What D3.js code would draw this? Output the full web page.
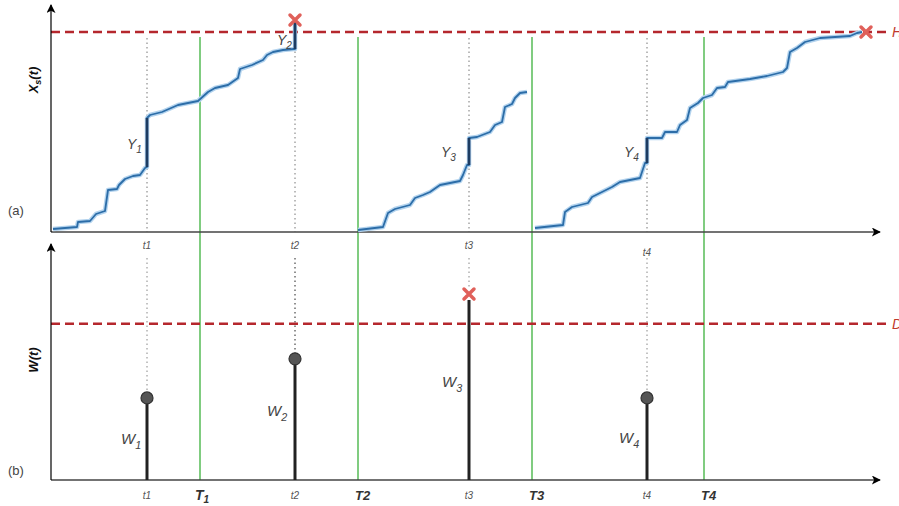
<!DOCTYPE html>
<html>
<head>
<meta charset="utf-8">
<script src="https://cdn.jsdelivr.net/npm/d3@7"></script>
<style>
  body { margin: 0; background: #fff; }
  text { font-family: Arial, "Liberation Sans", sans-serif; }
</style>
</head>
<body>
<div id="vis"></div>
<script>
// frame
const FRAME_WIDTH = 899;
const FRAME_HEIGHT = 506;

// event times t1..t4 and window ends T1..T4
const EVENT_TIMES = [9.6, 24.4, 41.8, 59.6];
const WINDOW_ENDS = [14.9, 30.7, 48.1, 65.3];
const H_LEVEL = 1;
const D_LEVEL = 1;

// X_s(t) paths, one per window (time, level)
const PATH_1 = [[0.2,0.015],[2.6,0.025],[2.7,0.05],[3.9,0.055],[4.5,0.09],[5.4,0.105],[5.7,0.21],[6.6,0.215],
  [6.8,0.235],[7.4,0.265],[8.2,0.28],[8.9,0.285],[9.4,0.32],[9.6,0.325],[9.6,0.57],[9.9,0.585],[11.1,0.6],
  [12.7,0.635],[14.7,0.655],[15.7,0.70],[16.4,0.72],[17.7,0.735],[18.7,0.77],[18.9,0.815],[20.1,0.835],
  [21.2,0.86],[21.6,0.885],[22.2,0.90],[23.2,0.91],[24.3,0.915],[24.4,0.915],[24.4,1.05]];
const PATH_3 = [[30.7,0.01],[33.2,0.025],[33.7,0.095],[34.4,0.115],[35.9,0.135],[36.4,0.17],[37.2,0.185],
  [37.9,0.20],[38.9,0.235],[39.9,0.245],[40.9,0.255],[41.2,0.285],[41.6,0.335],[41.8,0.335],[41.8,0.47],
  [42.6,0.475],[43.9,0.50],[44.4,0.535],[45.1,0.55],[45.4,0.625],[46.1,0.64],[46.4,0.67],[46.9,0.695],[47.6,0.70]];
const PATH_4 = [[48.4,0.02],[51.2,0.035],[51.4,0.10],[52.1,0.125],[53.7,0.145],[54.1,0.175],[55.1,0.20],
  [56.1,0.225],[56.9,0.25],[57.9,0.26],[58.9,0.27],[59.1,0.30],[59.4,0.345],[59.6,0.345],[59.6,0.47],
  [61.1,0.47],[61.4,0.50],[62.6,0.50],[62.9,0.535],[63.6,0.56],[63.9,0.62],[64.7,0.645],[65.2,0.67],
  [66.1,0.685],[66.6,0.72],[67.4,0.725],[67.7,0.75],[69.9,0.765],[71.6,0.78],[73.2,0.80],[73.6,0.82],
  [73.9,0.90],[74.6,0.92],[75.4,0.95],[76.9,0.97],[79.9,0.98],[80.6,0.995],[81.1,1.0]];

// jumps Y1..Y4 (time, before, after)
const JUMPS = [[9.6,0.325,0.57],[24.4,0.915,1.05],[41.8,0.335,0.47],[59.6,0.345,0.47]];
// H crossings (time, level)
const H_CROSS = [[24.4,1.06],[81.5,1.0]];

// W(t) stems
const W_VALUES = [0.525, 0.775, 1.19, 0.525];
const W_EXCEEDED = [false, false, true, false];

const FRAME = d3.select("#vis").append("svg")
  .attr("width", FRAME_WIDTH)
  .attr("height", FRAME_HEIGHT);

const X_SCALE = d3.scaleLinear().domain([0, 82.9]).range([51, 880]);
const Y_TOP = d3.scaleLinear().domain([0, 1.135]).range([232, 5]);
const Y_BOT = d3.scaleLinear().domain([0, 1.51]).range([480, 244]);

// arrow marker
FRAME.append("defs").append("marker")
  .attr("id", "arrow")
  .attr("viewBox", "0 0 10 10")
  .attr("refX", 9).attr("refY", 5)
  .attr("markerWidth", 11).attr("markerHeight", 9)
  .attr("markerUnits", "userSpaceOnUse")
  .attr("orient", "auto")
  .append("path").attr("d", "M0,0L10,5L0,10L2.5,5Z").attr("fill", "#000");

const X0 = X_SCALE(0);
const XEND = X_SCALE.range()[1] - 3;

// green window lines
FRAME.selectAll(".win").data(WINDOW_ENDS).enter().append("line")
  .attr("x1", d => X_SCALE(d)).attr("x2", d => X_SCALE(d))
  .attr("y1", Y_TOP(H_LEVEL) + 5).attr("y2", Y_BOT(0))
  .attr("stroke", "#3cb13c").attr("stroke-width", 1.3);

// dotted guides, top panel
FRAME.selectAll(".gtop").data(EVENT_TIMES).enter().append("line")
  .attr("x1", d => X_SCALE(d)).attr("x2", d => X_SCALE(d))
  .attr("y1", Y_TOP(H_LEVEL) + 6).attr("y2", Y_TOP(0))
  .attr("stroke", "#777").attr("stroke-width", 1).attr("stroke-dasharray", "1.5,3");

// dotted guides, bottom panel
FRAME.selectAll(".gbot").data(EVENT_TIMES).enter().append("line")
  .attr("x1", d => X_SCALE(d)).attr("x2", d => X_SCALE(d))
  .attr("y1", 258)
  .attr("y2", (d, i) => Y_BOT(W_VALUES[i]) - 6)
  .attr("stroke", (d, i) => i === 1 ? "#222" : "#888")
  .attr("stroke-width", 1).attr("stroke-dasharray", "1.5,3");

// threshold lines
FRAME.append("line")
  .attr("x1", X0).attr("x2", 887)
  .attr("y1", Y_TOP(H_LEVEL)).attr("y2", Y_TOP(H_LEVEL))
  .attr("stroke", "#b5272d").attr("stroke-width", 2.5).attr("stroke-dasharray", "9,5");
FRAME.append("line")
  .attr("x1", X0).attr("x2", 887)
  .attr("y1", Y_BOT(D_LEVEL)).attr("y2", Y_BOT(D_LEVEL))
  .attr("stroke", "#b5272d").attr("stroke-width", 2.5).attr("stroke-dasharray", "9,5");
FRAME.append("text").attr("x", 892).attr("y", Y_TOP(H_LEVEL) + 5)
  .attr("fill", "#c0392b").attr("font-size", 14).attr("font-style", "italic").text("H");
FRAME.append("text").attr("x", 892).attr("y", Y_BOT(D_LEVEL) + 5)
  .attr("fill", "#c0392b").attr("font-size", 14).attr("font-style", "italic").text("D");

// axes
FRAME.append("line")
  .attr("x1", X0).attr("x2", XEND + 3).attr("y1", Y_TOP(0)).attr("y2", Y_TOP(0))
  .attr("stroke", "#444").attr("stroke-width", 1.6).attr("marker-end", "url(#arrow)");
FRAME.append("line")
  .attr("x1", X0).attr("x2", XEND + 3).attr("y1", Y_BOT(0)).attr("y2", Y_BOT(0))
  .attr("stroke", "#444").attr("stroke-width", 1.6).attr("marker-end", "url(#arrow)");
FRAME.append("line")
  .attr("x1", X0).attr("x2", X0).attr("y1", Y_TOP(0)).attr("y2", Y_TOP.range()[1])
  .attr("stroke", "#000").attr("stroke-width", 1.2).attr("marker-end", "url(#arrow)");
FRAME.append("line")
  .attr("x1", X0).attr("x2", X0).attr("y1", Y_BOT(0)).attr("y2", Y_BOT.range()[1])
  .attr("stroke", "#000").attr("stroke-width", 1.2).attr("marker-end", "url(#arrow)");

// X_s(t) curves
const LINE = d3.line().x(d => X_SCALE(d[0])).y(d => Y_TOP(d[1]));
[PATH_1, PATH_3, PATH_4].forEach(p => {
  FRAME.append("path").attr("d", LINE(p)).attr("fill", "none")
    .attr("stroke", "#b3d3ee").attr("stroke-width", 4.5).attr("stroke-linejoin", "round");
  FRAME.append("path").attr("d", LINE(p)).attr("fill", "none")
    .attr("stroke", "#2c6da8").attr("stroke-width", 1.8).attr("stroke-linejoin", "round");
});

// jumps
FRAME.selectAll(".jump").data(JUMPS).enter().append("line")
  .attr("x1", d => X_SCALE(d[0])).attr("x2", d => X_SCALE(d[0]))
  .attr("y1", d => Y_TOP(d[1])).attr("y2", d => Y_TOP(d[2]))
  .attr("stroke", "#1d3c62").attr("stroke-width", 2.8);

// X marks
function cross(g, cx, cy) {
  g.append("path")
    .attr("d", `M${cx - 5},${cy - 5}L${cx + 5},${cy + 5}M${cx + 5},${cy - 5}L${cx - 5},${cy + 5}`)
    .attr("stroke", "#e0605a").attr("stroke-width", 3.5).attr("stroke-linecap", "round");
}
H_CROSS.forEach(d => cross(FRAME, X_SCALE(d[0]), Y_TOP(d[1])));

// W(t) stems
FRAME.selectAll(".stem").data(EVENT_TIMES).enter().append("line")
  .attr("x1", d => X_SCALE(d)).attr("x2", d => X_SCALE(d))
  .attr("y1", Y_BOT(0))
  .attr("y2", (d, i) => Y_BOT(W_VALUES[i]) + (W_EXCEEDED[i] ? 6 : 0))
  .attr("stroke", "#222").attr("stroke-width", 3);
EVENT_TIMES.forEach((d, i) => {
  if (W_EXCEEDED[i]) {
    cross(FRAME, X_SCALE(d), Y_BOT(W_VALUES[i]));
  } else {
    FRAME.append("circle").attr("cx", X_SCALE(d)).attr("cy", Y_BOT(W_VALUES[i]))
      .attr("r", 6).attr("fill", "#555").attr("stroke", "#333").attr("stroke-width", 1.2);
  }
});

// label helper with subscript
function subLabel(x, y, base, sub, size, opts) {
  const t = FRAME.append("text").attr("x", x).attr("y", y)
    .attr("font-size", size).attr("fill", opts.fill || "#444")
    .attr("font-style", opts.italic ? "italic" : "normal")
    .attr("font-weight", opts.bold ? "bold" : "normal");
  t.append("tspan").text(base);
  t.append("tspan").attr("font-size", size * 0.72).attr("dy", opts.subDy || size * 0.3).text(sub);
  return t;
}

// Y labels
const Y_LABEL_POS = [[127, 149], [277, 45], [441, 157], [624, 157]];
JUMPS.forEach((d, i) => subLabel(Y_LABEL_POS[i][0], Y_LABEL_POS[i][1], "Y", String(i + 1), 14, {italic: true}));

// W labels
const W_LABEL_POS = [[121, 444], [267, 416], [442, 387], [619, 443]];
W_VALUES.forEach((d, i) => subLabel(W_LABEL_POS[i][0], W_LABEL_POS[i][1], "W", String(i + 1), 15, {italic: true}));

// t labels
const T_LABEL_TOP = [249, 249, 249, 256];
EVENT_TIMES.forEach((d, i) => {
  FRAME.append("text").attr("x", X_SCALE(d)).attr("y", T_LABEL_TOP[i])
    .attr("text-anchor", "middle").attr("font-size", 10).attr("font-style", "italic")
    .attr("fill", "#555").text("t" + (i + 1));
  FRAME.append("text").attr("x", X_SCALE(d)).attr("y", 499)
    .attr("text-anchor", "middle").attr("font-size", 10).attr("font-style", "italic")
    .attr("fill", "#555").text("t" + (i + 1));
});

// T labels
WINDOW_ENDS.forEach((d, i) => {
  if (i === 0) {
    subLabel(X_SCALE(d) - 5, 500, "T", "1", 14, {italic: true, bold: true, fill: "#333", subDy: 3});
  } else {
    FRAME.append("text").attr("x", X_SCALE(d) - 3).attr("y", 500)
      .attr("font-size", 13).attr("font-style", "italic").attr("font-weight", "bold")
      .attr("fill", "#333").text("T" + (i + 1));
  }
});

// axis titles
const xt = FRAME.append("text").attr("transform", "translate(38,80) rotate(-90)")
  .attr("text-anchor", "middle").attr("font-size", 13).attr("font-weight", "bold")
  .attr("font-style", "italic").attr("fill", "#111");
xt.append("tspan").text("X");
xt.append("tspan").attr("font-size", 9).attr("dy", 3).text("s");
xt.append("tspan").attr("dy", -3).text("(t)");

FRAME.append("text").attr("transform", "translate(38,360) rotate(-90)")
  .attr("text-anchor", "middle").attr("font-size", 13).attr("font-weight", "bold")
  .attr("font-style", "italic").attr("fill", "#111").text("W(t)");

FRAME.append("text").attr("x", 8).attr("y", 215).attr("font-size", 13).attr("fill", "#444").text("(a)");
FRAME.append("text").attr("x", 8).attr("y", 475).attr("font-size", 13).attr("fill", "#444").text("(b)");
</script>
</body>
</html>
